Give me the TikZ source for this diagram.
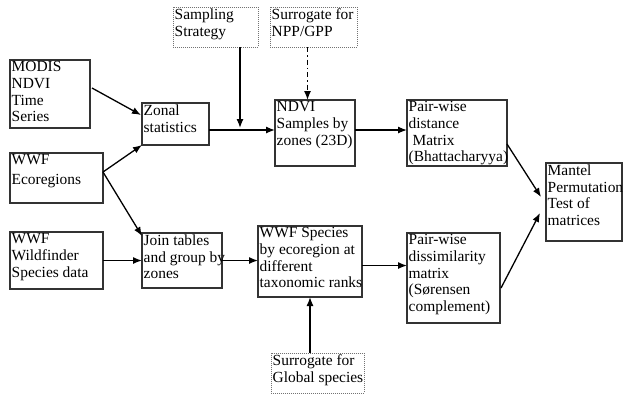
\documentclass[tikz,border=0pt]{standalone}
\usepackage{fontspec}
\setmainfont{Liberation Serif}
\usetikzlibrary{arrows.meta}
\tikzset{
  box/.style={draw=black!80, line width=1.3bp, inner sep=0pt, outer sep=0pt},
  dbox/.style={draw=black!55, densely dotted, line width=1bp, inner sep=0pt, outer sep=0pt},
  txt/.style={align=left, inner sep=1bp, anchor=north west, font=\fontsize{15.5}{16.7}\selectfont},
  arr/.style={draw=black, line width=1.3bp, -{Latex[length=9bp,width=7bp]}},
}
\newcommand\mybox[7]{%
  \node[#2, minimum width={(#5-#3)*1bp}, minimum height={(#6-#4)*1bp}] (#1) at ({(#3+#5)/2},{(#4+#6)/2}) {};
  \node[txt] (#1-t) at ([xshift=0.5bp,yshift=-0.5bp]#1.north west) {#7};}
\begin{document}
\begin{tikzpicture}[x=1bp,y=-1bp]
\useasboundingbox (0,0) rectangle (624,397);
\fill[white] (0,0) rectangle (624,397);
\mybox{modis}{box}{10}{60}{90}{128}{MODIS\\NDVI\\Time\\Series}
\mybox{eco}{box}{10}{153}{103}{203}{WWF\\[3bp]Ecoregions}
\mybox{wild}{box}{10}{232}{103}{289}{WWF\\Wildfinder\\Species data}
\mybox{zonal}{box}{142}{103}{209}{145}{Zonal\\statistics}
\mybox{join}{box}{142}{233}{222}{288}{Join tables\\and group by\\zones}
\mybox{samp}{dbox}{173}{7}{258}{47}{Sampling\\Strategy}
\mybox{npp}{dbox}{270}{7}{357}{47}{Surrogate for\\NPP/GPP}
\mybox{ndvi}{box}{275}{100}{355}{166}{NDVI\\Samples by\\zones (23D)}
\mybox{dist}{box}{407}{100}{507}{166}{Pair-wise\\distance\\\ Matrix\\(Bhattacharyya)}
\mybox{mantel}{box}{546}{163}{622}{241}{Mantel\\Permutation\\Test of\\matrices}
\mybox{spec}{box}{258}{226}{362}{297}{WWF Species\\by ecoregion at\\different\\taxonomic ranks}
\mybox{dis}{box}{407}{233}{500}{323}{Pair-wise\\dissimilarity\\matrix\\(Sørensen\\complement)}
\mybox{glob}{dbox}{271}{353}{364}{393}{Surrogate for\\Global species}

\draw[arr] ([xshift=2bp,yshift=6bp]modis.east) -- ([xshift=-1bp,yshift=9bp]zonal.west);
\draw[arr] ([yshift=6bp]eco.east) -- (zonal.south west);
\draw[arr] ([yshift=6bp]eco.east) -- ([yshift=-3bp]join.north west);
\draw[arr] (wild.east) -- (wild.east -| join.west);
\draw[arr] (join.east) -- (join.east -| spec.west);
\draw[arr] ([yshift=-4bp]spec.east) -- ([yshift=-4bp]spec.east -| dis.west);
\draw[arr] ([yshift=-6bp]zonal.east) -- ([yshift=-6bp]zonal.east -| ndvi.west);
\coordinate (sj) at ([xshift=24.5bp,yshift=-6bp]zonal.east -| samp.south);
\draw[arr, shorten >=2bp] ([xshift=24.5bp]samp.south) -- (sj);
\draw[arr, dash pattern=on 5bp off 3bp on 1.5bp off 3bp] ([xshift=-6bp]npp.south) -- ([xshift=-6bp]npp.south |- ndvi.north);
\draw[arr] ([yshift=3bp]ndvi.east) -- ([yshift=3bp]ndvi.east -| dist.west);
\draw[arr] ([yshift=-11bp]dist.east) -- ([xshift=-5bp,yshift=5bp]mantel.west);
\draw[arr] ([xshift=1bp,yshift=-10bp]dis.east) -- ([xshift=-6bp,yshift=-11bp]mantel.west);
\draw[arr] (spec.south |- glob.north) -- (spec.south);
\end{tikzpicture}
\end{document}
